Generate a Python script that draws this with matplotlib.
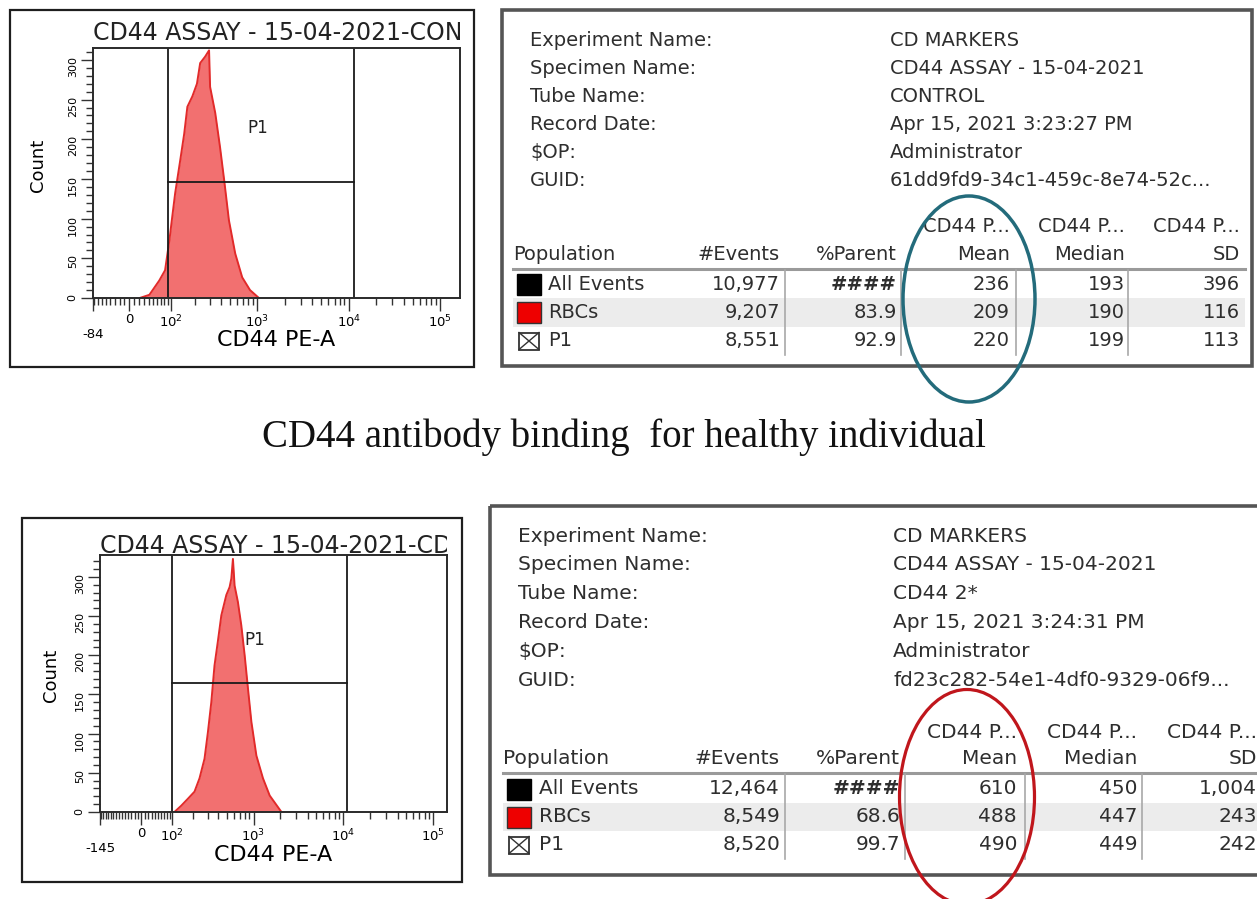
import numpy as np
import matplotlib
matplotlib.use('Agg')
import matplotlib.pyplot as plt
from matplotlib.patches import Rectangle, Ellipse
from matplotlib.transforms import Bbox, TransformedBbox

W, H = 1257, 899

# ---- podaci ----
# histogram kontrole (CD44 PE-A vrijednost, broj dogadaja)
ctrl_pe = [21, 42, 66, 82, 95, 104, 114, 133, 149, 163, 187, 212, 231, 263, 292, 300,
           343, 388, 432, 487, 572, 683, 832, 1042]
ctrl_count = [0, 4, 22, 35, 73, 102, 132, 174, 207, 241, 254, 270, 296, 304, 312, 266,
              233, 190, 148, 98, 56, 26, 10, 0]
ctrl_gate = [92, 11560, 146]          # lijeva, desna granica, visina
ctrl_xrange = [-84, 165000]

# histogram CD44 2*
cd44_pe = [108, 137, 170, 207, 239, 275, 302, 331, 361, 394, 433, 494, 538, 563, 587, 613,
           668, 730, 796, 868, 947, 1077, 1276, 1516, 1801, 2049]
cd44_count = [0, 8, 17, 26, 43, 68, 102, 140, 187, 217, 251, 277, 287, 298, 323, 289,
              268, 238, 200, 157, 115, 72, 43, 21, 9, 0]
cd44_gate = [97, 10970, 165]
cd44_xrange = [-145, 142000]

decade_ticks = [0, 1e2, 1e3, 1e4, 1e5]
decade_labels = ['0', r'$10^{2}$', r'$10^{3}$', r'$10^{4}$', r'$10^{5}$']
count_ticks = [0, 50, 100, 150, 200, 250, 300]

info_labels = ['Experiment Name:', 'Specimen Name:', 'Tube Name:', 'Record Date:', r'\$OP:', 'GUID:']
ctrl_info = ['CD MARKERS', 'CD44 ASSAY - 15-04-2021', 'CONTROL', 'Apr 15, 2021 3:23:27 PM',
             'Administrator', '61dd9fd9-34c1-459c-8e74-52c...']
cd44_info = ['CD MARKERS', 'CD44 ASSAY - 15-04-2021', 'CD44 2*', 'Apr 15, 2021 3:24:31 PM',
             'Administrator', 'fd23c282-54e1-4df0-9329-06f9...']

col_top = ['CD44 P...', 'CD44 P...', 'CD44 P...']
col_names = ['#Events', '%Parent', 'Mean', 'Median', 'SD']
populations = ['All Events', 'RBCs', 'P1']

ctrl_events = [10977, 9207, 8551]
ctrl_parent = ['####', '83.9', '92.9']
ctrl_mean = [236, 209, 220]
ctrl_median = [193, 190, 199]
ctrl_sd = [396, 116, 113]

cd44_events = [12464, 8549, 8520]
cd44_parent = ['####', '68.6', '99.7']
cd44_mean = [610, 488, 490]
cd44_median = [450, 447, 449]
cd44_sd = [1004, 243, 242]

caption = 'CD44 antibody binding  for healthy individual'

plt.rcParams['font.family'] = 'DejaVu Sans'
fig = plt.figure(figsize=(W / 100, H / 100), dpi=100)

# podloga u pikselima za okvire i tablice
ov = fig.add_axes([0, 0, 1, 1])
ov.set_xlim(0, W)
ov.set_ylim(H, 0)
ov.axis('off')


def rect_px(x0, y0, x1, y1):
    return [x0 / W, 1 - y1 / H, (x1 - x0) / W, (y1 - y0) / H]


def hist_panel(frame, axbox, pe, cnt, c, xr, ytop, gate, p1, title, title_y, count_x):
    ov.add_patch(Rectangle((frame[0], frame[1]), frame[2] - frame[0], frame[3] - frame[1],
                           fill=False, ec='#1e1e1e', lw=1.6))
    ax = fig.add_axes(rect_px(*axbox))
    ax.set_xscale('function', functions=(lambda v: np.arcsinh(v / c), lambda u: c * np.sinh(u)))
    ax.fill_between(pe, cnt, color='#f27070', lw=0)
    ax.plot(pe, cnt, color='#e22a2a', lw=1.4)
    ax.axvline(gate[0], color='#1a1a1a', lw=1.3)
    ax.axvline(gate[1], color='#1a1a1a', lw=1.3)
    ax.plot(gate[:2], [gate[2], gate[2]], color='#1a1a1a', lw=1.3)
    ax.text(p1[0], p1[1], 'P1', ha='center', va='center', fontsize=12, color='#222')
    ax.set_xlim(xr[0], xr[1])
    ax.set_ylim(0, ytop)

    ax.set_xticks([xr[0]] + decade_ticks)
    ax.set_xticklabels(['\n%d' % xr[0]] + decade_labels)
    minor = list(range(-140, 0, 10)) + list(range(10, 100, 10))
    for d in [100, 1000, 10000, 100000]:
        minor += [m * d for m in range(2, 10)]
    minor = [m for m in minor if xr[0] < m < xr[1]]
    ax.set_xticks(minor, minor=True)
    ax.set_yticks(count_ticks)
    ax.set_yticks(np.arange(0, ytop, 10), minor=True)
    ax.tick_params(axis='x', which='major', length=9, width=1, labelsize=9.5, pad=2, color='#333')
    ax.tick_params(axis='x', which='minor', length=5, width=1, color='#333')
    ax.tick_params(axis='y', which='major', length=9, width=1, labelsize=8, labelrotation=90,
                   pad=2, color='#333')
    ax.tick_params(axis='y', which='minor', length=5, width=1, color='#333')
    for s in ax.spines.values():
        s.set_color('#2a2a2a')
        s.set_linewidth(1.4)
    ax.set_ylabel('Count', fontsize=13)
    ax.yaxis.set_label_coords(count_x, 0.53)
    ax.set_xlabel('CD44 PE-A', fontsize=16)
    ax.xaxis.set_label_coords(0.5, -0.13)

    t = ax.text(0, title_y, title, transform=ax.transAxes, ha='left', va='baseline',
                fontsize=17, color='#222', clip_on=True)
    t.set_clip_path(None)
    t.set_clip_box(TransformedBbox(Bbox([[0, 1], [1, 1.4]]), ax.transAxes))
    return ax


hist_panel((10, 10, 474, 367), (93, 48, 460, 298), ctrl_pe, ctrl_count, 80, ctrl_xrange, 315,
           ctrl_gate, (1000, 214), 'CD44 ASSAY - 15-04-2021-CONTROL', 1.032, -0.125)
hist_panel((22, 518, 462, 882), (100, 555, 447, 812), cd44_pe, cd44_count, 114, cd44_xrange, 328,
           cd44_gate, (1033, 219), 'CD44 ASSAY - 15-04-2021-CD44 2*', 1.008, -0.115)


def stats_table(lay, info, events, parent, mean, median, sd, fs):
    x0, y0, x1, y1 = lay['box']
    ov.add_patch(Rectangle((x0, y0), x1 - x0, y1 - y0, fill=False, ec='#555', lw=2.6))
    tc = '#2e2e2e'
    for i, (lab, val) in enumerate(zip(info_labels, info)):
        y = lay['info_y'] + i * lay['info_dy']
        ov.text(lay['lab_x'], y, lab, fontsize=fs, va='center', color=tc)
        ov.text(lay['val_x'], y, val, fontsize=fs, va='center', color=tc)

    r = lay['right']
    hy0, hy1 = lay['hdr_y']
    for k, name in enumerate(col_top):
        ov.text(r[2 + k], hy0, name, fontsize=fs, ha='right', va='center', color=tc)
    ov.text(lay['pop_x'], hy1, 'Population', fontsize=fs, va='center', color=tc)
    for k, name in enumerate(col_names):
        ov.text(r[k], hy1, name, fontsize=fs, ha='right', va='center', color=tc)

    # crta ispod zaglavlja i osjencani redak
    ov.plot([lay['pop_x'], lay['line_end']], [lay['hline'], lay['hline']], color='#9a9a9a', lw=2.2)
    rows_y = [lay['row_y'] + i * lay['row_dy'] for i in range(3)]
    ov.add_patch(Rectangle((lay['pop_x'], rows_y[1] - lay['row_dy'] / 2), lay['line_end'] - lay['pop_x'],
                           lay['row_dy'], color='#ececec', lw=0, zorder=1))
    for sx in lay['seps']:
        ov.plot([sx, sx], [lay['hline'] + 1, rows_y[2] + 14], color='#a8a8a8', lw=1.2)

    sw_x, sw_w, sw_h = lay['sw_x'], 24, 21
    for i, pop in enumerate(populations):
        y = rows_y[i]
        if i == 0:
            ov.add_patch(Rectangle((sw_x, y - sw_h / 2), sw_w, sw_h, color='black', zorder=3))
        elif i == 1:
            ov.add_patch(Rectangle((sw_x, y - sw_h / 2), sw_w, sw_h, fc='#ee0000', ec='#333',
                                   lw=1, zorder=3))
        else:
            ov.add_patch(Rectangle((sw_x + 2, y - sw_h / 2 + 2), sw_w - 4, sw_h - 4, fill=False,
                                   ec='#333', lw=1.3, zorder=3))
            ov.plot([sw_x + 2, sw_x + sw_w - 2], [y - sw_h / 2 + 2, y + sw_h / 2 - 2], color='#333', lw=1)
            ov.plot([sw_x + 2, sw_x + sw_w - 2], [y + sw_h / 2 - 2, y - sw_h / 2 + 2], color='#333', lw=1)
        ov.text(lay['name_x'], y, pop, fontsize=fs, va='center', color=tc, zorder=4)
        cells = [f'{events[i]:,}', parent[i], f'{mean[i]:,}', f'{median[i]:,}', f'{sd[i]:,}']
        for k, cell in enumerate(cells):
            ov.text(r[k], y, cell, fontsize=fs, ha='right', va='center', color=tc, zorder=4,
                    fontweight='bold' if cell == '####' else 'normal')


top_layout = dict(box=(502, 10, 1252, 366), lab_x=530, val_x=890, info_y=40, info_dy=28.2,
                  hdr_y=(227, 255), hline=269, line_end=1245, pop_x=513, row_y=284, row_dy=28.5,
                  right=[780, 897, 1010, 1125, 1240], seps=[785, 901, 1016, 1128],
                  sw_x=517, name_x=548)
bot_layout = dict(box=(490, 506, 1268, 875), lab_x=518, val_x=893, info_y=536, info_dy=28.8,
                  hdr_y=(732, 758), hline=773, line_end=1257, pop_x=503, row_y=789, row_dy=28,
                  right=[780, 900, 1017, 1137, 1257], seps=[785, 905, 1025, 1142],
                  sw_x=507, name_x=539)

stats_table(top_layout, ctrl_info, ctrl_events, ctrl_parent, ctrl_mean, ctrl_median, ctrl_sd, 14)
stats_table(bot_layout, cd44_info, cd44_events, cd44_parent, cd44_mean, cd44_median, cd44_sd, 14.5)

# oznacene srednje vrijednosti
ov.add_patch(Ellipse((969, 299), 132, 206, fill=False, ec='#236b7b', lw=2.5, zorder=6))
ov.add_patch(Ellipse((967, 797), 135, 215, fill=False, ec='#c0161c', lw=2.3, zorder=6))

ov.text(624, 437, caption, family='Liberation Serif', fontsize=28, ha='center', va='center',
        color='#111')

fig.savefig('out.png', dpi=100)
